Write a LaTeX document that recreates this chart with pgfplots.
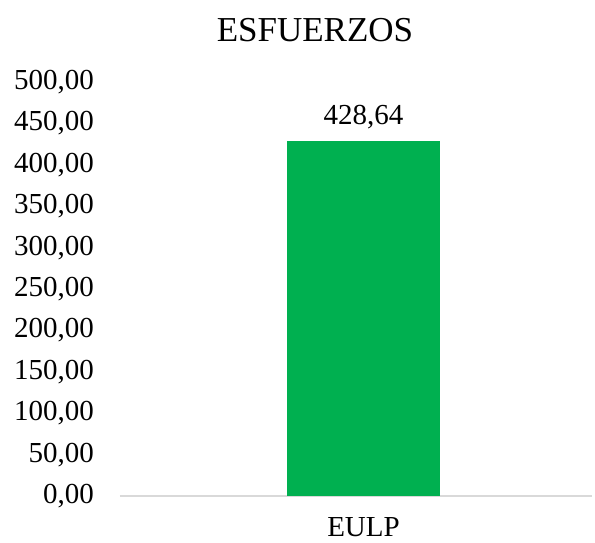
\documentclass[border=0pt]{standalone}
\usepackage{fontspec}
\setmainfont{Liberation Serif}
\usepackage{pgfplots}
\pgfplotsset{compat=1.18}
\definecolor{barg}{HTML}{00B050}
\definecolor{axg}{HTML}{D9D9D9}
\begin{document}
\begin{tikzpicture}[x=1pt,y=1pt]
\useasboundingbox (0,0) rectangle (595,542);
\begin{axis}[
  at={(120pt,46pt)}, anchor=south west, scale only axis,
  width=472pt, height=414pt,
  xmin=-243.5, xmax=228.5, ymin=0, ymax=500,
  axis x line*=bottom, axis y line*=left,
  x axis line style={draw=axg, line width=1.5pt, -},
  y axis line style={draw=none},
  ytick={0,50,...,500}, xtick={0}, xticklabels={EULP},
  major tick length=0pt,
  /pgf/number format/.cd, fixed, fixed zerofill, precision=2, use comma, assume math mode=true, 1000 sep={},
  /pgfplots/.cd,
  yticklabel style={anchor=east, inner sep=0pt, xshift=-26pt, font=\fontsize{29}{30}\selectfont},
  xticklabel style={anchor=north, inner sep=0pt, yshift=-21pt, font=\fontsize{29}{30}\selectfont},
  nodes near coords,
  every node near coord/.append style={anchor=base, inner sep=0pt, yshift=17pt, font=\fontsize{29}{30}\selectfont, text=black},
  clip=false,
]
\addplot[ybar, fill=barg, draw=none, bar width=153] coordinates {(0,428.64)};
\end{axis}
\node[anchor=base, font=\fontsize{35}{36}\selectfont] at (315,500) {ESFUERZOS};
\end{tikzpicture}
\end{document}
